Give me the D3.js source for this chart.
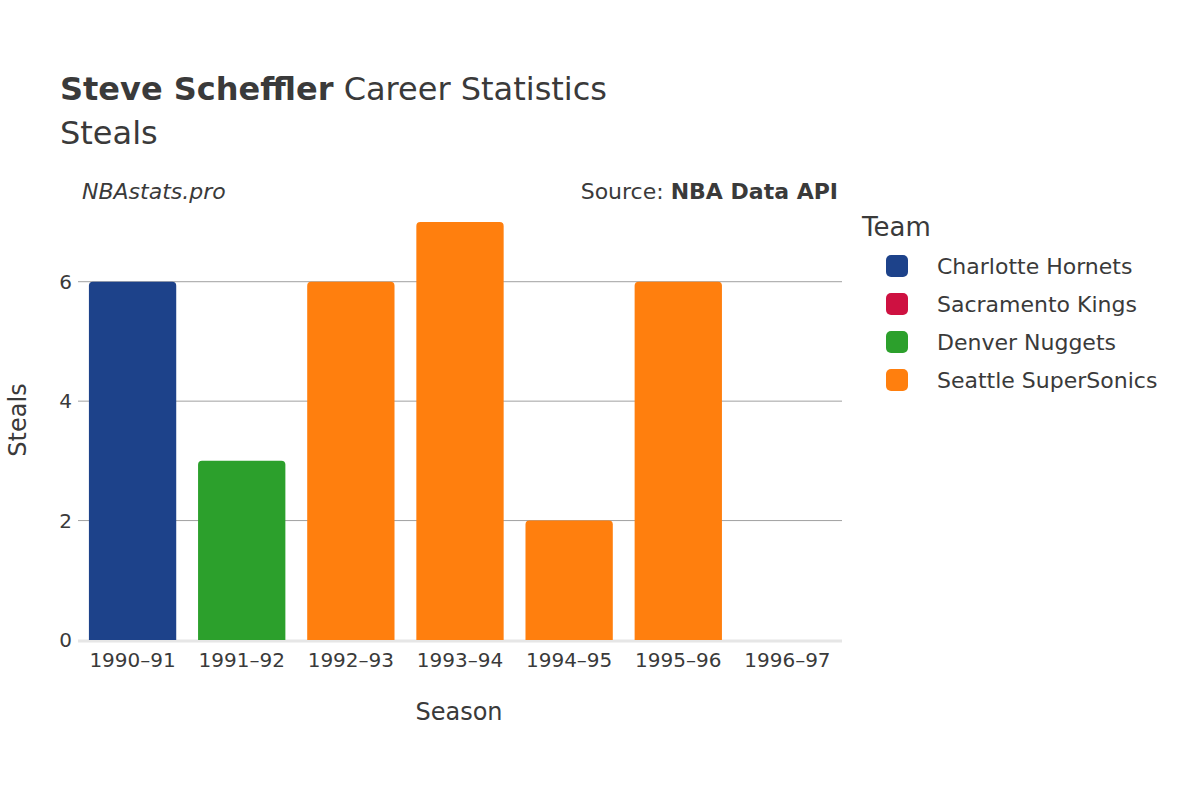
<!DOCTYPE html>
<html><head><meta charset="utf-8">
<script src="https://cdn.jsdelivr.net/npm/d3@7"></script>
<style>body{margin:0;background:#fff;font-family:"DejaVu Sans",sans-serif;}</style>
</head><body><svg id="chart" width="1200" height="800"></svg>
<script>
const seasons = ["1990–91","1991–92","1992–93","1993–94","1994–95","1995–96","1996–97"];
const steals = [6,3,6,7,2,6,0];
const teamOf = ["Charlotte Hornets","Denver Nuggets","Seattle SuperSonics","Seattle SuperSonics","Seattle SuperSonics","Seattle SuperSonics","Sacramento Kings"];
const teams = ["Charlotte Hornets","Sacramento Kings","Denver Nuggets","Seattle SuperSonics"];
const teamColors = ["#1d428a","#ce1141","#2ca02c","#ff7f0e"];
const yTicks = [0,2,4,6];

const svg = d3.select("#chart");
const color = d3.scaleOrdinal(teams, teamColors);
const x = d3.scaleBand(seasons, [78,842]).paddingInner(0.2).paddingOuter(0.1);
const y = d3.scaleLinear([0,7],[640,222]);
const txt = "#3a3a3a";

// gridlines
svg.append("g").selectAll("line").data(yTicks.filter(d=>d>0)).join("line")
    .attr("x1",78).attr("x2",842).attr("y1",d=>y(d)).attr("y2",d=>y(d))
    .attr("stroke","#a0a0a0").attr("stroke-width",1);
svg.append("line").attr("x1",78).attr("x2",842).attr("y1",641).attr("y2",641)
    .attr("stroke","#e6e6e6").attr("stroke-width",3);

// bars
svg.append("g").selectAll("path").data(seasons).join("path")
    .attr("fill",(d,i)=>color(teamOf[i]))
    .attr("d",(d,i)=>{
        const x0=x(d), w=x.bandwidth(), y0=y(steals[i]), h=640-y0;
        if (h<=0) return "";
        const r=Math.min(4,h);
        return `M${x0},640V${y0+r}Q${x0},${y0} ${x0+r},${y0}H${x0+w-r}Q${x0+w},${y0} ${x0+w},${y0+r}V640Z`;
    });

// axes labels
svg.append("g").selectAll("text").data(yTicks).join("text")
    .attr("x",72).attr("y",d=>y(d)+7).attr("text-anchor","end")
    .attr("font-size",20).attr("fill",txt).text(d=>d);
svg.append("g").selectAll("text").data(seasons).join("text")
    .attr("x",d=>x(d)+x.bandwidth()/2).attr("y",667).attr("text-anchor","middle")
    .attr("font-size",20).attr("fill",txt).text(d=>d);
svg.append("text").attr("x",459).attr("y",720).attr("text-anchor","middle")
    .attr("font-size",24).attr("fill",txt).text("Season");
svg.append("text").attr("transform","translate(26,420) rotate(-90)").attr("text-anchor","middle")
    .attr("font-size",24).attr("fill",txt).text("Steals");

// titles
const t = svg.append("text").attr("x",60).attr("y",100).attr("font-size",32).attr("fill",txt);
t.append("tspan").attr("font-weight","bold").text("Steve Scheffler");
t.append("tspan").text(" Career Statistics");
svg.append("text").attr("x",60).attr("y",144).attr("font-size",32).attr("fill",txt).text("Steals");
svg.append("text").attr("x",82).attr("y",199).attr("font-size",22).attr("font-style","italic")
    .attr("fill",txt).text("NBAstats.pro");
const s = svg.append("text").attr("x",838).attr("y",199).attr("text-anchor","end").attr("font-size",22).attr("fill",txt);
s.append("tspan").text("Source: ");
s.append("tspan").attr("font-weight","bold").text("NBA Data API");

// legend
svg.append("text").attr("x",862).attr("y",236).attr("font-size",26).attr("fill",txt).text("Team");
const lg = svg.append("g").selectAll("g").data(teams).join("g")
    .attr("transform",(d,i)=>`translate(0,${266+i*38})`);
lg.append("rect").attr("x",886).attr("y",-11).attr("width",22).attr("height",22).attr("rx",5)
    .attr("fill",d=>color(d));
lg.append("text").attr("x",937).attr("y",8).attr("font-size",22).attr("fill",txt).text(d=>d);
</script></body></html>
